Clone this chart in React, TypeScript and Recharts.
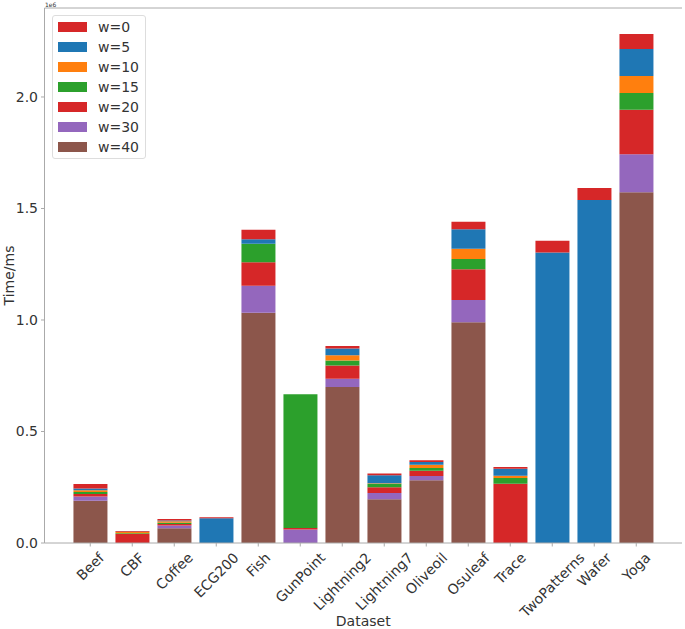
import React from "react";
import { BarChart, Bar, XAxis, YAxis, Label, ReferenceLine } from "recharts";

const datasets = [
  "Beef", "CBF", "Coffee", "ECG200", "Fish", "GunPoint", "Lightning2",
  "Lightning7", "Oliveoil", "Osuleaf", "Trace", "TwoPatterns", "Wafer", "Yoga",
];

// segment heights in units of 1e6 ms, bottom (w=40) to top (w=0)
const w40 = [0.19, 0, 0.066, 0, 1.033, 0, 0.7, 0.196, 0.281, 0.99, 0, 0, 0, 1.573];
const w30 = [0.018, 0, 0.012, 0, 0.12, 0.061, 0.036, 0.028, 0.019, 0.1, 0, 0, 0, 0.17];
const w20 = [0.012, 0.04, 0.007, 0, 0.106, 0.006, 0.06, 0.026, 0.024, 0.138, 0.266, 0, 0, 0.2];
const w15 = [0.009, 0.004, 0.006, 0, 0.083, 0.6, 0.022, 0.016, 0.012, 0.045, 0.026, 0, 0, 0.075];
const w10 = [0.008, 0.005, 0.006, 0, 0, 0, 0.024, 0.002, 0.015, 0.046, 0.01, 0, 0, 0.076];
const w5 = [0.007, 0.002, 0.004, 0.111, 0.02, 0, 0.03, 0.036, 0.012, 0.088, 0.031, 1.303, 1.538, 0.121];
const w0 = [0.021, 0.003, 0.007, 0.005, 0.043, 0, 0.011, 0.008, 0.008, 0.033, 0.008, 0.052, 0.054, 0.067];

const yTicks = [0, 0.5, 1.0, 1.5, 2.0];
const yMax = 2.399;

const series = [
  { key: "w40", name: "w=40", values: w40, color: "#8c564b" },
  { key: "w30", name: "w=30", values: w30, color: "#9467bd" },
  { key: "w20", name: "w=20", values: w20, color: "#d62728" },
  { key: "w15", name: "w=15", values: w15, color: "#2ca02c" },
  { key: "w10", name: "w=10", values: w10, color: "#ff7f0e" },
  { key: "w5", name: "w=5", values: w5, color: "#1f77b4" },
  { key: "w0", name: "w=0", values: w0, color: "#d62728" },
];

const data = datasets.map((name, i) => {
  const row: Record<string, number | string> = { name };
  series.forEach((s) => {
    row[s.key] = s.values[i];
  });
  return row;
});

const FONT = "DejaVu Sans";
const AXIS = "#aaaaaa";
const TEXT = "#333333";

let measureCtx: CanvasRenderingContext2D | null = null;
function textWidth(s: string) {
  if (!measureCtx) {
    measureCtx = document.createElement("canvas").getContext("2d");
  }
  if (!measureCtx) return s.length * 8;
  measureCtx.font = `14px "${FONT}"`;
  return measureCtx.measureText(s).width;
}

// rotated label whose bounding box is centred under the tick (matplotlib ha=center)
function RotatedTick(props: any) {
  const { x, y, payload } = props;
  const len = textWidth(payload.value);
  const cy = y + (0.707 * (len + 16)) / 2;
  return (
    <text
      x={x}
      y={cy}
      transform={`rotate(-45 ${x} ${cy})`}
      textAnchor="middle"
      dominantBaseline="central"
      fontSize={14}
      fontFamily={FONT}
      fill={TEXT}
    >
      {payload.value}
    </text>
  );
}

function YLabel() {
  return (
    <g>
      <text
        x={13.5}
        y={275.5}
        transform="rotate(-90 13.5 275.5)"
        textAnchor="middle"
        fontSize={14}
        fontFamily={FONT}
        fill={TEXT}
      >
        Time/ms
      </text>
      <text x={45} y={7} fontSize={6} fontFamily={FONT} fill={TEXT}>
        1e6
      </text>
    </g>
  );
}

export default function App() {
  const legendItems = [...series].reverse();
  return (
    <div style={{ position: "absolute", left: 0, top: 0, width: 685, height: 629, background: "#fff" }}>
      <BarChart
        width={685}
        height={629}
        data={data}
        margin={{ top: 8, right: 3, left: 0, bottom: 0 }}
        barCategoryGap="10%"
      >
        <XAxis
          dataKey="name"
          interval={0}
          height={86}
          padding={{ left: 24.75, right: 24.75 }}
          stroke={AXIS}
          tickSize={3.5}
          tickMargin={3}
          tick={<RotatedTick />}
        >
          <Label
            value="Dataset"
            position="insideBottom"
            offset={3}
            style={{ fontSize: 14, fontFamily: FONT, fill: TEXT }}
          />
        </XAxis>
        <YAxis
          width={44.5}
          domain={[0, yMax]}
          ticks={yTicks}
          stroke={AXIS}
          tickSize={3.5}
          tickMargin={3}
          tickFormatter={(v: number) => v.toFixed(1)}
          tick={{ fontSize: 14, fontFamily: FONT, fill: TEXT }}
        >
          <Label content={<YLabel />} />
        </YAxis>
        <YAxis
          yAxisId="right"
          orientation="right"
          width={0}
          tick={false}
          tickLine={false}
          stroke={AXIS}
        />
        {series.map((s) => (
          <Bar
            key={s.key}
            dataKey={s.key}
            name={s.name}
            stackId="t"
            fill={s.color}
            isAnimationActive={false}
          />
        ))}
        <ReferenceLine y={yMax} stroke={AXIS} strokeWidth={1} />
      </BarChart>
      <div
        style={{
          position: "absolute",
          left: 52,
          top: 15,
          width: 94,
          height: 144,
          boxSizing: "border-box",
          border: "1px solid #dddddd",
          borderRadius: 3,
          background: "rgba(255,255,255,0.8)",
          fontFamily: FONT,
          fontSize: 14,
          color: TEXT,
          paddingTop: 1,
        }}
      >
        {legendItems.map((s) => (
          <div key={s.key} style={{ display: "flex", alignItems: "center", height: 20 }}>
            <div style={{ marginLeft: 5, width: 29, height: 10, background: s.color }} />
            <span style={{ marginLeft: 11, lineHeight: "20px" }}>{s.name}</span>
          </div>
        ))}
      </div>
    </div>
  );
}
